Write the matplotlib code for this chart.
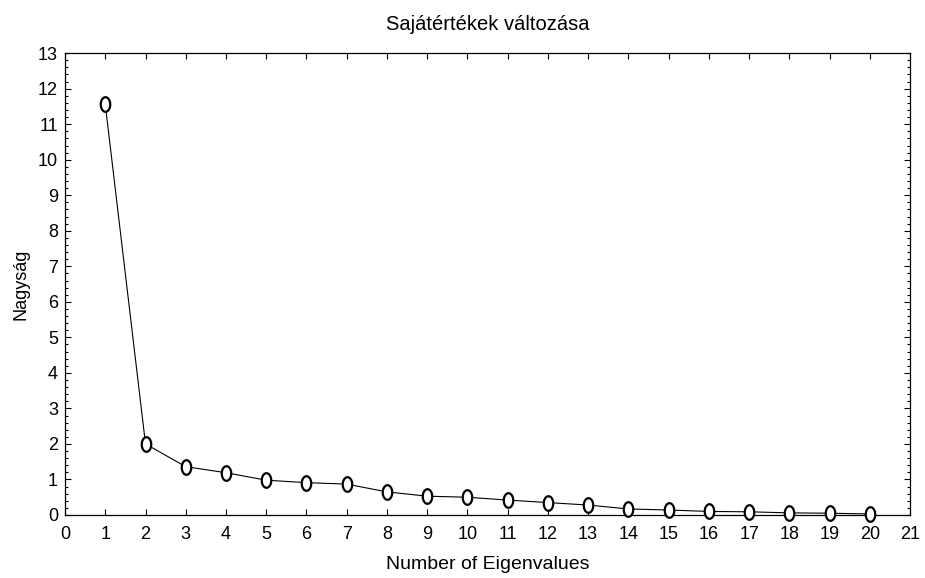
import matplotlib
matplotlib.use("Agg")
import matplotlib.pyplot as plt
import numpy as np
from matplotlib.path import Path
from matplotlib.ticker import MultipleLocator

plt.rcParams['font.family'] = ['Liberation Sans', 'DejaVu Sans']

components = list(range(1, 21))
eigenvalues = [11.56, 2.00, 1.36, 1.19, 0.98, 0.91, 0.87, 0.65, 0.53, 0.50,
               0.42, 0.35, 0.28, 0.17, 0.14, 0.10, 0.09, 0.06, 0.05, 0.03]
x_ticks = list(range(0, 22))
y_ticks = list(range(0, 14))

title = "Sajátértékek változása"
xlabel = "Number of Eigenvalues"
ylabel = "Nagyság"

fig = plt.figure(figsize=(9.25, 5.78), dpi=100)
ax = fig.add_axes([0.0703, 0.109, 0.9135, 0.799])

t = np.linspace(0, 2 * np.pi, 60)
ellipse = Path(np.column_stack([0.65 * np.cos(t), np.sin(t)]), closed=True)

ax.plot(components, eigenvalues, color='black', linewidth=0.8,
        marker=ellipse, markersize=10.5, markerfacecolor='white',
        markeredgecolor='black', markeredgewidth=1.6, zorder=3, clip_on=False)

ax.set_xlim(0, 21)
ax.set_ylim(0, 13)
ax.set_xticks(x_ticks)
ax.set_yticks(y_ticks)
ax.yaxis.set_minor_locator(MultipleLocator(0.2))
ax.tick_params(axis='both', which='both', direction='in', top=True, right=True,
               labelsize=13, width=0.8)
ax.tick_params(axis='both', which='major', length=4)
ax.tick_params(axis='y', which='minor', length=2)
ax.tick_params(axis='x', which='major', pad=8)
ax.tick_params(axis='y', which='major', pad=5)
for s in ax.spines.values():
    s.set_linewidth(0.9)

ax.set_title(title, fontsize=14.5, pad=17)
ax.set_xlabel(xlabel, fontsize=14, labelpad=9)
ax.set_ylabel(ylabel, fontsize=13, labelpad=6)

fig.savefig("out.png", dpi=100)
